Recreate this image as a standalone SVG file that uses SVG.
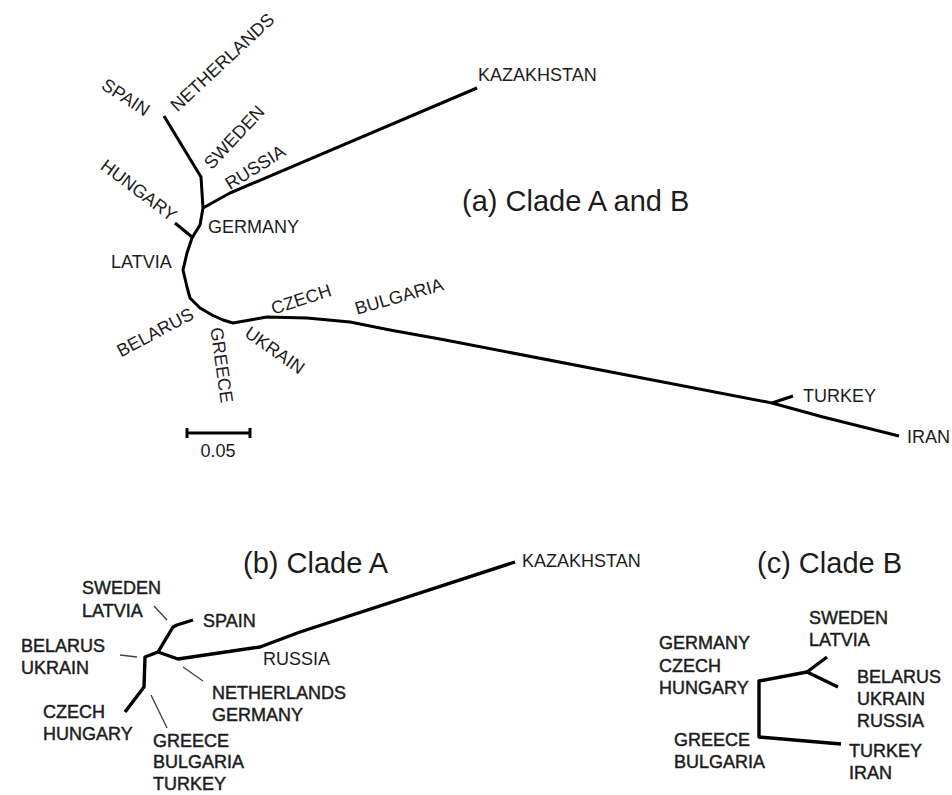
<svg xmlns="http://www.w3.org/2000/svg" width="952" height="795" viewBox="0 0 952 795">
<style>
text{font-family:"Liberation Sans",Arial,sans-serif;fill:#1c1c1c}
.lb{font-size:18px}
.rl{font-size:18px;text-anchor:middle}
.tt{font-size:29px}
.hv{stroke:#1c1c1c;stroke-width:0.45}
.br{fill:none;stroke:#000;stroke-width:3;stroke-linejoin:round;stroke-linecap:butt}
.bb{fill:none;stroke:#000;stroke-width:3.4;stroke-linejoin:round}
.ld{fill:none;stroke:#444;stroke-width:1.4}
</style>
<rect width="952" height="795" fill="#fff"/>
<g id="connectors">
  <g id="tree-a">
    <polyline class="br" points="164,116 201,177 203,208"/>
    <polyline class="br" points="203,208 230,193 477,88"/>
    <polyline class="br" points="203,208 200,225 195,233 192,238 187,253 183,270 187,287 190,298 200,308 212,315 223,320 233,323 250,320 267,317 307,318 350,322 390,330 440,339 772,403 823,417 899,436"/>
    <polyline class="br" points="175,223 192,237"/>
    <polyline class="br" points="772,403 793,396"/>
    <g id="scale-bar">
      <line class="br" x1="187" y1="433" x2="250" y2="433"/>
      <line class="br" x1="187" y1="428" x2="187" y2="438"/>
      <line class="br" x1="250" y1="428" x2="250" y2="438"/>
    </g>
  </g>
  <g id="tree-b">
    <polyline class="bb" points="193,620 177,625 173,627 158,652"/>
    <polyline class="bb" points="158,652 178,659 260,647 300,632 515,562"/>
    <polyline class="bb" points="158,652 145,657 144,687 125,712"/>
    <line class="ld" x1="154" y1="606" x2="167" y2="620"/>
    <line class="ld" x1="120" y1="655" x2="137" y2="657"/>
    <line class="ld" x1="183" y1="667" x2="203" y2="681"/>
    <line class="ld" x1="151" y1="695" x2="167" y2="728"/>
  </g>
  <g id="tree-c">
    <polyline class="bb" points="807,672 759,681 759,737 841,744"/>
    <polyline class="bb" points="827,657 807,672 838,687"/>
  </g>
</g>
<g id="titles">
  <text class="tt" x="462" y="211">(a) Clade A and B</text>
  <text class="tt" x="243" y="573">(b) Clade A</text>
  <text class="tt" x="757" y="573">(c) Clade B</text>
</g>
<g id="labels-a">
  <g id="n-spain"><text class="rl" transform="translate(126,97) rotate(33)" dy="6.5">SPAIN</text></g>
  <g id="n-netherlands"><text class="rl" transform="translate(222,62) rotate(-43)" dy="6.5">NETHERLANDS</text></g>
  <g id="n-sweden"><text class="rl" transform="translate(234,137) rotate(-47)" dy="6.5">SWEDEN</text></g>
  <g id="n-russia"><text class="rl" transform="translate(255,167) rotate(-32)" dy="6.5">RUSSIA</text></g>
  <g id="n-hungary"><text class="rl" transform="translate(139,190) rotate(37)" dy="6.5">HUNGARY</text></g>
  <g id="n-germany"><text class="lb" x="208" y="233">GERMANY</text></g>
  <g id="n-latvia"><text class="lb" x="111" y="268">LATVIA</text></g>
  <g id="n-belarus"><text class="rl" transform="translate(155,332) rotate(-28)" dy="6.5">BELARUS</text></g>
  <g id="n-greece"><text class="rl" transform="translate(222,365) rotate(82)" dy="6.5">GREECE</text></g>
  <g id="n-ukrain"><text class="rl" transform="translate(275,350) rotate(35)" dy="6.5">UKRAIN</text></g>
  <g id="n-czech"><text class="rl" transform="translate(301,299) rotate(-18)" dy="6.5">CZECH</text></g>
  <g id="n-bulgaria"><text class="rl" transform="translate(399,296) rotate(-16)" dy="6.5">BULGARIA</text></g>
  <g id="n-kazakhstan"><text class="lb" x="478" y="81">KAZAKHSTAN</text></g>
  <g id="n-turkey"><text class="lb" x="803" y="402">TURKEY</text></g>
  <g id="n-iran"><text class="lb" x="907" y="443">IRAN</text></g>
  <text class="lb" x="218" y="457" text-anchor="middle">0.05</text>
</g>
<g id="labels-b">
  <g id="b-sweden-latvia"><text class="lb hv" x="82" y="594">SWEDEN</text><text class="lb hv" x="82" y="617">LATVIA</text></g>
  <g id="b-spain"><text class="lb hv" x="203" y="627">SPAIN</text></g>
  <g id="b-belarus-ukrain"><text class="lb hv" x="21" y="652">BELARUS</text><text class="lb hv" x="21" y="674">UKRAIN</text></g>
  <g id="b-russia"><text class="lb" x="263" y="665">RUSSIA</text></g>
  <g id="b-kazakhstan"><text class="lb" x="522" y="567">KAZAKHSTAN</text></g>
  <g id="b-netherlands-germany"><text class="lb hv" x="212" y="699">NETHERLANDS</text><text class="lb hv" x="212" y="721">GERMANY</text></g>
  <g id="b-czech-hungary"><text class="lb hv" x="43" y="718">CZECH</text><text class="lb hv" x="43" y="740">HUNGARY</text></g>
  <g id="b-greece-bulgaria-turkey"><text class="lb hv" x="153" y="747">GREECE</text><text class="lb hv" x="153" y="768">BULGARIA</text><text class="lb hv" x="153" y="790">TURKEY</text></g>
</g>
<g id="labels-c">
  <g id="c-sweden-latvia"><text class="lb hv" x="809" y="624">SWEDEN</text><text class="lb hv" x="809" y="646">LATVIA</text></g>
  <g id="c-germany-czech-hungary"><text class="lb hv" x="659" y="649">GERMANY</text><text class="lb hv" x="659" y="672">CZECH</text><text class="lb hv" x="659" y="694">HUNGARY</text></g>
  <g id="c-belarus-ukrain-russia"><text class="lb hv" x="857" y="683">BELARUS</text><text class="lb hv" x="857" y="705">UKRAIN</text><text class="lb hv" x="857" y="727">RUSSIA</text></g>
  <g id="c-greece-bulgaria"><text class="lb hv" x="674" y="746">GREECE</text><text class="lb hv" x="674" y="768">BULGARIA</text></g>
  <g id="c-turkey-iran"><text class="lb hv" x="849" y="757">TURKEY</text><text class="lb hv" x="849" y="779">IRAN</text></g>
</g>
</svg>
